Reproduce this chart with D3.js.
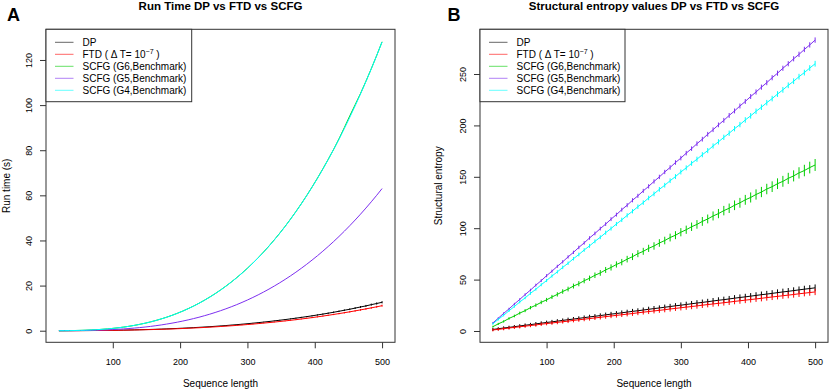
<!DOCTYPE html>
<html>
<head>
<meta charset="utf-8">
<script src="https://cdn.jsdelivr.net/npm/d3@7"></script>
<style>
body { margin: 0; background: #fff; }
text { font-family: "Liberation Sans", Arial, sans-serif; fill: #000; }
</style>
</head>
<body>
<div id="chart"></div>
<script>
//sequence lengths shared by both panels
var seqLength = [20,28,36,44,52,60,68,76,84,92,
	100,108,116,124,132,140,148,156,164,172,
	180,188,196,204,212,220,228,236,244,252,
	260,268,276,284,292,300,308,316,324,332,
	340,348,356,364,372,380,388,396,404,412,
	420,428,436,444,452,460,468,476,484,492,
	500];

//panel A: run time (s)
var runDP = [0.01,0.01,0.02,0.03,0.04,0.06,0.07,0.10,0.12,0.15,
	0.19,0.22,0.27,0.31,0.37,0.43,0.49,0.56,0.63,0.72,
	0.81,0.90,1.00,1.12,1.23,1.36,1.49,1.63,1.78,1.94,
	2.11,2.29,2.48,2.68,2.88,3.10,3.33,3.57,3.82,4.08,
	4.35,4.64,4.93,5.24,5.56,5.90,6.24,6.60,6.98,7.36,
	7.76,8.18,8.61,9.08,9.51,10.02,10.52,10.99,11.55,12.05,
	12.60];
var runFTD = [0.00,0.01,0.02,0.02,0.04,0.05,0.07,0.08,0.11,0.13,
	0.16,0.20,0.23,0.28,0.32,0.37,0.43,0.49,0.56,0.63,
	0.71,0.79,0.88,0.98,1.08,1.20,1.31,1.44,1.57,1.71,
	1.86,2.02,2.18,2.35,2.54,2.73,2.93,3.14,3.36,3.59,
	3.83,4.08,4.34,4.61,4.89,5.19,5.49,5.81,6.14,6.48,
	6.83,7.20,7.58,7.97,8.37,8.79,9.22,9.67,10.13,10.60,
	11.09];
var runG6 = [0.01,0.02,0.05,0.09,0.14,0.22,0.32,0.45,0.61,0.80,
	1.03,1.29,1.60,1.96,2.36,2.82,3.33,3.90,4.53,5.23,
	5.99,6.82,7.73,8.71,9.78,10.93,12.16,13.49,14.91,16.42,
	18.04,19.75,21.57,23.50,25.54,27.70,29.97,32.36,34.88,37.53,
	40.31,43.22,46.27,49.46,52.79,56.27,59.90,63.68,67.62,71.72,
	75.95,80.36,85.05,90.05,95.20,100.15,105.15,110.55,116.15,122.00,
	128.05];
var runG5 = [0.00,0.01,0.02,0.04,0.07,0.11,0.16,0.22,0.30,0.39,
	0.50,0.64,0.79,0.96,1.16,1.38,1.63,1.91,2.22,2.56,
	2.94,3.35,3.79,4.28,4.80,5.37,5.97,6.63,7.32,8.07,
	8.86,9.70,10.60,11.54,12.55,13.61,14.73,15.90,17.14,18.44,
	19.81,21.24,22.74,24.31,25.94,27.66,29.44,31.30,33.23,35.25,
	37.34,39.51,41.77,44.11,46.54,49.06,51.66,54.36,57.14,60.02,
	63.00];
var runG4 = [0.01,0.02,0.05,0.09,0.14,0.22,0.32,0.45,0.61,0.80,
	1.02,1.29,1.60,1.95,2.36,2.81,3.32,3.89,4.52,5.21,
	5.97,6.80,7.71,8.69,9.76,10.90,12.14,13.46,14.88,16.39,
	18.00,19.71,21.53,23.46,25.50,27.65,29.92,32.31,34.83,37.47,
	40.25,43.16,46.20,49.39,52.71,56.19,59.81,63.59,67.52,71.61,
	75.87,80.28,84.87,89.63,94.56,99.67,104.96,110.44,116.10,121.95,
	128.00];
var runErrDP = [0,0,0,0,0,0,0,0,0,0.01,
	0.01,0.01,0.01,0.01,0.01,0.02,0.02,0.02,0.03,0.03,
	0.03,0.04,0.04,0.04,0.05,0.05,0.06,0.07,0.07,0.08,
	0.08,0.09,0.10,0.11,0.12,0.12,0.13,0.14,0.15,0.16,
	0.17,0.19,0.20,0.21,0.22,0.24,0.25,0.26,0.28,0.29,
	0.31,0.33,0.34,0.36,0.38,0.40,0.42,0.44,0.46,0.48,
	0.50];
var runErrFTD = [0,0,0,0,0,0,0,0,0,0.01,
	0.01,0.01,0.01,0.01,0.01,0.01,0.02,0.02,0.02,0.03,
	0.03,0.03,0.04,0.04,0.04,0.05,0.05,0.06,0.06,0.07,
	0.07,0.08,0.09,0.10,0.10,0.11,0.12,0.13,0.13,0.14,
	0.15,0.17,0.18,0.19,0.20,0.21,0.22,0.23,0.25,0.26,
	0.28,0.29,0.31,0.32,0.34,0.36,0.38,0.40,0.41,0.43,
	0.45];

//panel B: structural entropy
var entDP = [1.5,2.2,2.9,3.5,4.2,4.9,5.6,6.2,6.9,7.6,
	8.3,8.9,9.6,10.3,11.0,11.6,12.3,13.0,13.7,14.3,
	15.0,15.7,16.4,17.0,17.7,18.4,19.1,19.7,20.4,21.1,
	21.8,22.4,23.1,23.8,24.5,25.1,25.8,26.5,27.2,27.8,
	28.5,29.2,29.9,30.5,31.2,31.9,32.6,33.2,33.9,34.6,
	35.3,35.9,36.6,37.3,38.0,38.6,39.3,40.0,40.7,41.3,
	42.0];
var entFTD = [1.0,1.6,2.2,2.9,3.5,4.1,4.7,5.3,5.9,6.6,
	7.2,7.8,8.4,9.0,9.6,10.3,10.9,11.5,12.1,12.7,
	13.3,14.0,14.6,15.2,15.8,16.4,17.0,17.7,18.3,18.9,
	19.5,20.1,20.7,21.4,22.0,22.6,23.2,23.8,24.4,25.1,
	25.7,26.3,26.9,27.5,28.1,28.8,29.4,30.0,30.6,31.2,
	31.8,32.5,33.1,33.7,34.3,34.9,35.5,36.2,36.8,37.4,
	38.0];
var entG6 = [4.2,6.9,9.3,12.2,14.6,17.4,19.8,22.7,25.1,27.9,
	30.3,33.1,35.6,38.4,40.8,43.7,46.0,48.9,51.3,54.2,
	56.5,59.4,61.8,64.7,67.0,69.9,72.3,75.2,77.5,80.4,
	82.7,85.6,88.0,90.9,93.2,96.1,98.5,101.4,103.7,106.6,
	109.0,111.9,114.2,117.1,119.4,122.3,124.7,127.6,129.9,132.8,
	135.2,138.1,140.4,143.3,145.6,148.5,150.9,153.8,156.1,159.0,
	161.5];
var entG5 = [7.8,12.4,17.1,21.5,26.2,30.7,35.4,39.8,44.6,49.0,
	53.8,58.2,62.9,67.3,72.1,76.5,81.3,85.7,90.5,94.9,
	99.6,104.0,108.8,113.2,118.0,122.4,127.2,131.5,136.3,140.7,
	145.5,149.9,154.7,159.1,163.9,168.2,173.0,177.4,182.2,186.6,
	191.4,195.8,200.5,204.9,209.7,214.1,218.9,223.3,228.1,232.5,
	237.2,241.6,246.4,250.8,255.6,260.0,264.8,269.1,273.9,278.3,
	283.0];
var entG4 = [7.0,11.3,15.3,19.7,23.8,28.2,32.2,36.6,40.6,45.0,
	49.1,53.5,57.5,61.9,65.9,70.3,74.4,78.8,82.8,87.2,
	91.2,95.6,99.7,104.1,108.1,112.5,116.5,120.9,124.9,129.4,
	133.4,137.8,141.8,146.2,150.2,154.7,158.7,163.1,167.1,171.5,
	175.5,180.0,184.0,188.4,192.4,196.8,200.8,205.3,209.3,213.7,
	217.7,222.1,226.1,230.5,234.6,239.0,243.0,247.4,251.4,255.8,
	260.0];
var entErrDP = [1.5,1.5,1.6,1.6,1.6,1.7,1.7,1.7,1.8,1.8,
	1.8,1.9,1.9,1.9,2.0,2.0,2.0,2.1,2.1,2.1,
	2.2,2.2,2.2,2.3,2.3,2.3,2.4,2.4,2.4,2.5,
	2.5,2.5,2.6,2.6,2.6,2.7,2.7,2.7,2.8,2.8,
	2.8,2.9,2.9,2.9,2.9,3.0,3.0,3.0,3.0,3.1,
	3.1,3.1,3.1,3.2,3.2,3.2,3.2,3.3,3.3,3.3,
	3.3];
var entErrFTD = [1.4,1.4,1.5,1.5,1.5,1.6,1.6,1.6,1.7,1.7,
	1.7,1.8,1.8,1.8,1.9,1.9,1.9,2.0,2.0,2.0,
	2.1,2.1,2.1,2.2,2.2,2.2,2.3,2.3,2.3,2.4,
	2.4,2.4,2.5,2.5,2.5,2.6,2.6,2.6,2.7,2.7,
	2.7,2.7,2.8,2.8,2.8,2.8,2.9,2.9,2.9,2.9,
	3.0,3.0,3.0,3.0,3.0,3.1,3.1,3.1,3.1,3.1,
	3.1];
var entErrG6 = [0.9,1.0,1.1,1.2,1.3,1.4,1.5,1.6,1.7,1.8,
	1.9,2.0,2.1,2.2,2.3,2.4,2.5,2.5,2.6,2.7,
	2.8,2.9,3.0,3.0,3.1,3.2,3.3,3.4,3.4,3.5,
	3.6,3.7,3.7,3.8,3.9,4.0,4.0,4.1,4.2,4.3,
	4.3,4.4,4.5,4.6,4.6,4.7,4.8,4.8,4.9,5.0,
	5.0,5.1,5.2,5.2,5.3,5.4,5.4,5.5,5.6,5.7,
	5.8];
var entErrG5 = [1.0,1.0,1.1,1.1,1.2,1.2,1.3,1.3,1.4,1.4,
	1.5,1.5,1.5,1.6,1.6,1.6,1.7,1.7,1.7,1.8,
	1.8,1.8,1.9,1.9,1.9,2.0,2.0,2.0,2.0,2.1,
	2.1,2.1,2.1,2.2,2.2,2.2,2.2,2.2,2.3,2.3,
	2.3,2.3,2.3,2.4,2.4,2.4,2.4,2.4,2.4,2.5,
	2.5,2.5,2.5,2.5,2.5,2.5,2.5,2.6,2.6,2.6,
	2.6];
var entErrG4 = [1.0,1.1,1.1,1.2,1.2,1.3,1.3,1.4,1.4,1.5,
	1.5,1.6,1.6,1.7,1.7,1.7,1.8,1.8,1.9,1.9,
	1.9,2.0,2.0,2.0,2.1,2.1,2.1,2.2,2.2,2.2,
	2.3,2.3,2.3,2.3,2.4,2.4,2.4,2.4,2.5,2.5,
	2.5,2.5,2.6,2.6,2.6,2.6,2.6,2.7,2.7,2.7,
	2.7,2.7,2.7,2.8,2.8,2.8,2.8,2.8,2.8,2.8,
	2.8];

//ticks and labels
var lenTicks = [100, 200, 300, 400, 500];
var runTicks = [0, 20, 40, 60, 80, 100, 120];
var entTicks = [0, 50, 100, 150, 200, 250];
var seriesNames = ["DP", "FTD", "SCFG (G6,Benchmark)", "SCFG (G5,Benchmark)", "SCFG (G4,Benchmark)"];
var seriesColors = ["#000000", "#ff0000", "#00cd00", "#7d2ff0", "#00ffff"];

var width = 830, height = 392;
var top0 = 29.3, bottom0 = 342.3;

var svg = d3.select("#chart").append("svg")
	.attr("width", width)
	.attr("height", height);

function drawPanel(p)
{
	var x = d3.scaleLinear().domain([0.8, 519.2]).range([p.left, p.right]);
	var y = d3.scaleLinear().domain(p.yDomain).range([bottom0, top0]);
	var g = svg.append("g");

	//x axis
	var xa = g.append("g")
		.attr("transform", "translate(0," + bottom0 + ")")
		.call(d3.axisBottom(x).tickValues(lenTicks).tickSize(6).tickPadding(10));
	xa.select(".domain").remove();
	xa.selectAll("line").attr("stroke", "#333");
	xa.selectAll("text").style("font-size", "9px").attr("fill", "#000");

	//y axis, labels parallel to the axis like R
	var ya = g.append("g")
		.attr("transform", "translate(" + p.left + ",0)")
		.call(d3.axisLeft(y).tickValues(p.yTicks).tickSize(6));
	ya.select(".domain").remove();
	ya.selectAll("line").attr("stroke", "#333");
	ya.selectAll("text")
		.style("font-size", "9px")
		.attr("fill", "#000")
		.attr("x", 0).attr("dy", 0)
		.attr("text-anchor", "middle")
		.attr("transform", "translate(-13.8,0) rotate(-90)");

	//error bars then lines, one series at a time
	p.series.forEach(function(s, i)
	{
		if (s.err)
		{
			g.append("g").selectAll("line")
				.data(seqLength)
			.enter().append("line")
				.attr("x1", function(d) { return x(d); })
				.attr("x2", function(d) { return x(d); })
				.attr("y1", function(d, j) { return y(s.values[j] - s.err[j]); })
				.attr("y2", function(d, j) { return y(s.values[j] + s.err[j]); })
				.attr("stroke", seriesColors[i])
				.attr("stroke-width", 1);
		}
		var line = d3.line()
			.x(function(d, j) { return x(seqLength[j]); })
			.y(function(d) { return y(d); });
		g.append("path")
			.datum(s.values)
			.attr("d", line)
			.attr("fill", "none")
			.attr("stroke", seriesColors[i])
			.attr("stroke-width", 1);
	});

	//plot box
	g.append("rect")
		.attr("x", p.left).attr("y", top0)
		.attr("width", p.right - p.left).attr("height", bottom0 - top0)
		.attr("fill", "none").attr("stroke", "#333");

	//legend in the top left corner
	var lg = g.append("g");
	lg.append("rect")
		.attr("x", p.left).attr("y", top0)
		.attr("width", p.legendWidth).attr("height", 72.4)
		.attr("fill", "#fff").attr("stroke", "#333");
	seriesNames.forEach(function(name, i)
	{
		var ly = 42.3 + i * 12;
		lg.append("line")
			.attr("x1", p.left + 9).attr("x2", p.left + 27.5)
			.attr("y1", ly).attr("y2", ly)
			.attr("stroke", seriesColors[i]).attr("stroke-opacity", 0.6);
		var t = lg.append("text")
			.attr("x", p.left + 36.5).attr("y", ly + 3.6)
			.style("font-size", "10px");
		if (name == "FTD")
		{
			t.append("tspan").text("FTD ( \u0394 T= 10");
			t.append("tspan").attr("dy", -4).style("font-size", "7px").text("\u22127");
			t.append("tspan").attr("dy", 4).text(" )");
		}
		else
			t.text(name);
	});

	//titles
	var cx = (p.left + p.right) / 2;
	svg.append("text").attr("x", cx).attr("y", 9.5)
		.attr("text-anchor", "middle")
		.style("font-size", "11.5px").style("font-weight", "bold")
		.text(p.title);
	svg.append("text").attr("x", p.letterX).attr("y", 21)
		.style("font-size", "18px").style("font-weight", "bold")
		.text(p.letter);
	svg.append("text").attr("x", cx).attr("y", 387)
		.attr("text-anchor", "middle")
		.style("font-size", "10px")
		.text("Sequence length");
	svg.append("text")
		.attr("transform", "translate(" + p.yTitleX + "," + ((top0 + bottom0) / 2) + ") rotate(-90)")
		.attr("text-anchor", "middle")
		.style("font-size", "10px")
		.text(p.yTitle);
}

drawPanel({
	left: 46, right: 395,
	yDomain: [-5.14, 133.6], yTicks: runTicks,
	legendWidth: 145.7,
	title: "Run Time DP vs FTD vs SCFG", letter: "A", letterX: 7,
	yTitle: "Run time (s)", yTitleX: 9.5,
	series: [
		{values: runDP, err: runErrDP},
		{values: runFTD, err: runErrFTD},
		{values: runG6},
		{values: runG5},
		{values: runG4}
	]
});

drawPanel({
	left: 480, right: 828,
	yDomain: [-11, 293.5], yTicks: entTicks,
	legendWidth: 145,
	title: "Structural entropy values DP vs FTD vs SCFG", letter: "B", letterX: 447.5,
	yTitle: "Structural entropy", yTitleX: 442,
	series: [
		{values: entDP, err: entErrDP},
		{values: entFTD, err: entErrFTD},
		{values: entG6, err: entErrG6},
		{values: entG5, err: entErrG5},
		{values: entG4, err: entErrG4}
	]
});
</script>
</body>
</html>
